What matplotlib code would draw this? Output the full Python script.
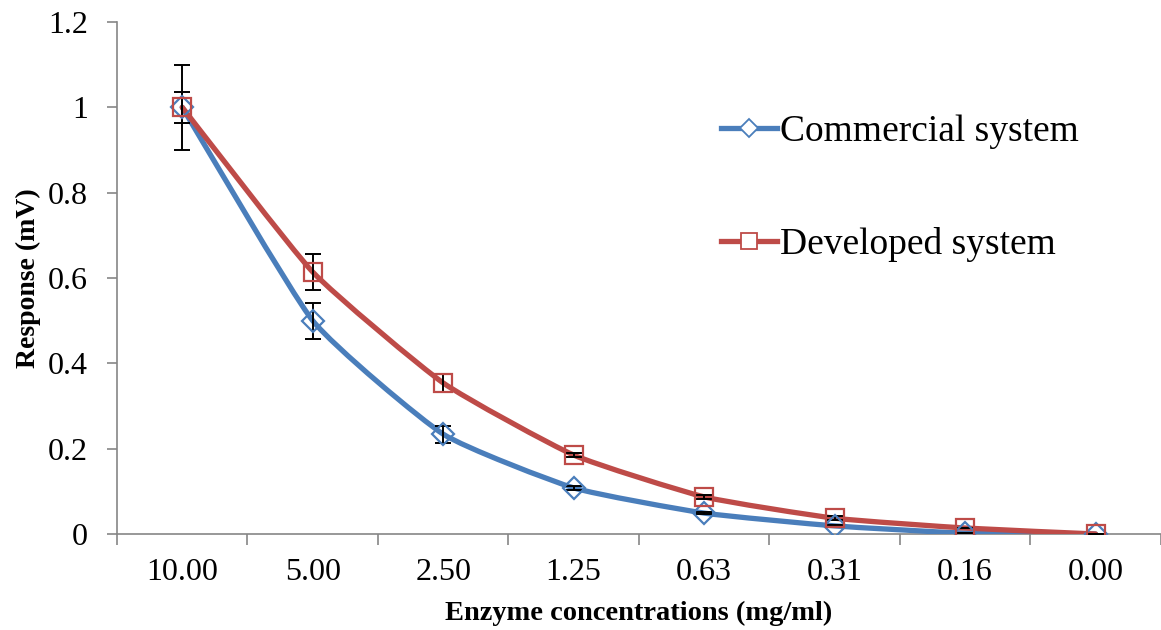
import numpy as np
import matplotlib
matplotlib.use('Agg')
import matplotlib.pyplot as plt
from matplotlib.path import Path
from matplotlib.patches import PathPatch
from matplotlib.lines import Line2D

plt.rcParams['font.family'] = ['Liberation Serif', 'DejaVu Serif']

# Enzyme dilution series and normalised responses
concentrations = ['10.00', '5.00', '2.50', '1.25', '0.63', '0.31', '0.16', '0.00']
commercial = [1.0, 0.50, 0.234, 0.108, 0.049, 0.019, 0.002, 0.0]
commercial_err = [0.10, 0.042, 0.02, 0.004, 0.003, 0.003, 0.0, 0.0]
developed = [1.0, 0.614, 0.354, 0.185, 0.087, 0.037, 0.014, 0.0]
developed_err = [0.036, 0.043, 0.021, 0.004, 0.004, 0.004, 0.0, 0.0]

blue = '#4A7EBB'
red = '#BE4B48'


def smooth_path(xs, ys, tension=0.08):
    # cubic bezier through each point, lightly smoothed line
    pts = np.column_stack([xs, ys])
    verts = [pts[0]]
    codes = [Path.MOVETO]
    n = len(pts)
    for i in range(n - 1):
        p0 = pts[max(i - 1, 0)]
        p1 = pts[i]
        p2 = pts[i + 1]
        p3 = pts[min(i + 2, n - 1)]
        c1 = p1 + (p2 - p0) * tension
        c2 = p2 - (p3 - p1) * tension
        verts += [c1, c2, p2]
        codes += [Path.CURVE4] * 3
    return Path(verts, codes)


fig = plt.figure(figsize=(11.61, 6.30), dpi=100)
ax = fig.add_axes([0.1008, 0.1524, 0.899, 0.8127])

x = np.arange(len(concentrations))

for vals, errs, color, marker, ms in [
        (commercial, commercial_err, blue, 'D', 11),
        (developed, developed_err, red, 's', 13)]:
    ax.add_patch(PathPatch(smooth_path(x, vals), facecolor='none', edgecolor=color,
                           lw=3.8, capstyle='round', joinstyle='round', zorder=3))
    ax.errorbar(x, vals, yerr=errs, fmt='none', ecolor='black', elinewidth=1.4,
                capsize=6, capthick=1.4, zorder=4)
    ax.plot(x, vals, linestyle='none', marker=marker, ms=ms, mfc='none',
            mec=color, mew=1.6, zorder=5)

ax.set_xlim(-0.5, len(concentrations) - 0.5)
ax.set_ylim(0, 1.2)
ax.set_yticks([0, 0.2, 0.4, 0.6, 0.8, 1.0, 1.2])
ax.set_yticklabels(['0', '0.2', '0.4', '0.6', '0.8', '1', '1.2'])
ax.set_xticks(x)
ax.set_xticklabels(concentrations)
ax.set_xticks(np.arange(-0.5, len(concentrations)), minor=True)

for side in ['top', 'right']:
    ax.spines[side].set_visible(False)
for side in ['left', 'bottom']:
    ax.spines[side].set_color('#868686')
    ax.spines[side].set_linewidth(1.2)

ax.tick_params(axis='x', which='major', length=0, labelsize=23, pad=17)
ax.tick_params(axis='x', which='minor', length=8, width=1.2, color='#868686')
ax.tick_params(axis='y', length=7, width=1.2, color='#868686', labelsize=23, pad=14)

ax.set_xlabel('Enzyme concentrations (mg/ml)', fontsize=20.5, fontweight='bold', labelpad=10)
ax.set_ylabel('Response (mV)', fontsize=20, fontweight='bold', labelpad=5)

handles = [
    Line2D([], [], color=blue, lw=3.8, marker='D', ms=9, mfc='white', mec=blue, mew=1.3),
    Line2D([], [], color=red, lw=3.8, marker='s', ms=11, mfc='white', mec=red, mew=1.3),
]
ax.legend(handles, ['Commercial system', 'Developed system'], loc='upper left',
          bbox_to_anchor=(0.546, 0.885), frameon=False, fontsize=27,
          handlelength=1.5, handletextpad=0.08, labelspacing=2.08)

fig.savefig('out.png', dpi=100)
